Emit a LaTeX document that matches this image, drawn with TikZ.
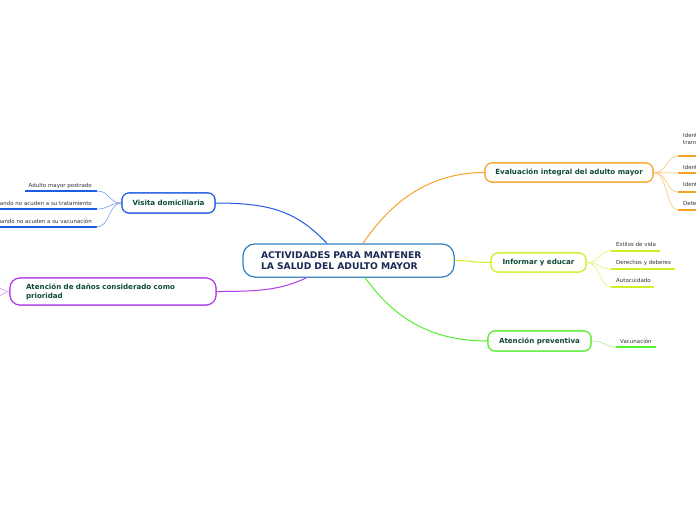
\documentclass[tikz,border=0pt]{standalone}
\usepackage{fontspec}
\setmainfont{DejaVu Sans}
\definecolor{centerblue}{HTML}{2B7BC0}
\definecolor{centertext}{HTML}{1B2A55}
\definecolor{nodetext}{HTML}{0F4A3A}
\definecolor{subtxt}{HTML}{333333}
\definecolor{visblue}{HTML}{1F5BE0}
\definecolor{vislight}{HTML}{86A6F2}
\definecolor{purp}{HTML}{B03CEC}
\definecolor{purplight}{HTML}{D9A0F6}
\definecolor{orng}{HTML}{F7A228}
\definecolor{ornglight}{HTML}{FCCB80}
\definecolor{ylw}{HTML}{D2EE22}
\definecolor{ylwlight}{HTML}{E6F67A}
\definecolor{grn}{HTML}{55EE2E}
\definecolor{grnlight}{HTML}{A6F590}
\tikzset{
  branch/.style={line width=1pt},
  twig/.style={line width=0.7pt},
  uline/.style={line width=1.9pt},
  topicbox/.style={draw, fill=white, line width=1.1pt, rounded corners=7pt, inner sep=0pt,
    text=nodetext, font=\bfseries\fontsize{7.1}{9}\selectfont},
  centerbox/.style={draw=centerblue, fill=white, line width=1pt, rounded corners=12pt, text width=175pt,
    inner xsep=18pt, inner ysep=0pt, minimum height=33pt, align=left, text=centertext,
    font=\bfseries\fontsize{9.2}{11}\selectfont},
  subtext/.style={inner sep=0pt, text=subtxt, font=\fontsize{5.5}{7}\selectfont}
}
\begin{document}
\begin{tikzpicture}[x=1pt,y=-1pt]
\path[use as bounding box, fill=white] (0,0) rectangle (696,520);
\begin{scope}
\clip (0,0) rectangle (696,520);
% topic nodes
\node[centerbox] (center) at (348.5,260.5) {ACTIVIDADES PARA MANTENER\\LA SALUD DEL ADULTO MAYOR};
\node[topicbox, draw=visblue, minimum width=93pt, minimum height=20pt] (visita) at (168.5,203) {Visita domiciliaria};
\node[topicbox, draw=purp, rounded corners=10pt, text width=174pt, inner xsep=16pt, minimum height=27pt, align=left] (danos) at (113,291.5)
  {Atención de daños considerado como\\prioridad};
\node[topicbox, draw=orng, minimum width=168pt, minimum height=19pt] (eval) at (569,172.5) {Evaluación integral del adulto mayor};
\node[topicbox, draw=ylw, minimum width=95pt, minimum height=19pt] (info) at (538.5,262.5) {Informar y educar};
\node[topicbox, draw=grn, minimum width=103pt, minimum height=20pt] (prev) at (539.5,341) {Atención preventiva};

% main branches
\draw[visblue, branch] ([xshift=-21.5pt]center.north) .. controls +(-30,-32) and +(55,0) .. (visita.east);
\draw[orng, branch] ([xshift=14.5pt]center.north) .. controls +(28,-42) and +(-55,0) .. (eval.west);
\draw[grn, branch] ([xshift=16.5pt]center.south) .. controls +(30,42) and +(-55,0) .. (prev.west);
\draw[purp, branch] ([xshift=-41.5pt]center.south) .. controls +(-25,12) and +(45,0) .. (danos.east);
\draw[ylw, branch] (center.east) .. controls +(18,0) and +(-18,0) .. (info.west);

% Visita sub items
\coordinate (v1a) at (25,191); \coordinate (v1b) at (97,191);
\coordinate (v2a) at (-10,209); \coordinate (v2b) at (97,209);
\coordinate (v3a) at (-10,227); \coordinate (v3b) at (97,227);
\node[subtext, anchor=base east] (v1) at (92,187) {Adulto mayor postrado};
\node[subtext, anchor=base east] (v2) at (92,205) {Cuando no acuden a su tratamiento};
\node[subtext, anchor=base east] (v3) at (92,223.5) {Cuando no acuden a su vacunación};
\foreach \a/\b in {v1a/v1b,v2a/v2b,v3a/v3b} \draw[visblue, uline] (\a) -- (\b);
\foreach \b in {v1b,v2b,v3b} \draw[vislight, twig] (visita.west) .. controls +(-13,0) and +(13,0) .. (\b);

% Danos sub branch (cut at edge)
\coordinate (d1) at (-2,288); \coordinate (d2) at (-2,296);
\draw[purplight, twig] (danos.west) .. controls +(-5,0) and +(4,0) .. (d1);
\draw[purplight, twig] (danos.west) .. controls +(-5,0) and +(4,0) .. (d2);

% Evaluacion sub items
\coordinate (e1a) at (678,156); \coordinate (e1b) at (700,156);
\coordinate (e2a) at (678,173); \coordinate (e2b) at (700,173);
\coordinate (e3a) at (678,192); \coordinate (e3b) at (700,192);
\coordinate (e4a) at (678,210); \coordinate (e4b) at (700,210);
\node[subtext, anchor=base west, align=left] (e1) at (683,144) {Identificar\\transtornos};
\node[subtext, anchor=base west] (e2) at (683,169) {Identificar};
\node[subtext, anchor=base west] (e3) at (683,186) {Identificar};
\node[subtext, anchor=base west] (e4) at (683,205) {Detectar};
\foreach \a/\b in {e1a/e1b,e2a/e2b,e3a/e3b,e4a/e4b} \draw[orng, uline] (\a) -- (\b);
\foreach \a in {e1a,e2a,e3a,e4a} \draw[ornglight, twig] (eval.east) .. controls +(14,0) and +(-12,0) .. (\a);

% Informar sub items
\coordinate (i1a) at (611,251); \coordinate (i1b) at (660,251);
\coordinate (i2a) at (611,269); \coordinate (i2b) at (675,269);
\coordinate (i3a) at (611,287); \coordinate (i3b) at (654,287);
\node[subtext, anchor=base west] (i1) at (616,246) {Estilos de vida};
\node[subtext, anchor=base west] (i2) at (616,264) {Derechos y deberes};
\node[subtext, anchor=base west] (i3) at (616,282) {Autocuidado};
\foreach \a/\b in {i1a/i1b,i2a/i2b,i3a/i3b} \draw[ylw, uline] (\a) -- (\b);
\foreach \a in {i1a,i2a,i3a} \draw[ylwlight, twig] (info.east) .. controls +(14,0) and +(-12,0) .. (\a);

% Preventiva sub item
\coordinate (p1a) at (616,347); \coordinate (p1b) at (656,347);
\node[subtext, anchor=base west] (p1) at (620,343) {Vacunación};
\draw[grn, uline] (p1a) -- (p1b);
\draw[grnlight, twig] (prev.east) .. controls +(14,0) and +(-12,0) .. (p1a);

% boxes drawn again over the branch ends
\node[centerbox] (centerT) at (348.5,260.5) {ACTIVIDADES PARA MANTENER\\LA SALUD DEL ADULTO MAYOR};
\node[topicbox, draw=visblue, minimum width=93pt, minimum height=20pt] (visitaT) at (168.5,203) {Visita domiciliaria};
\node[topicbox, draw=purp, rounded corners=10pt, text width=174pt, inner xsep=16pt, minimum height=27pt, align=left] (danosT) at (113,291.5)
  {Atención de daños considerado como\\prioridad};
\node[topicbox, draw=orng, minimum width=168pt, minimum height=19pt] (evalT) at (569,172.5) {Evaluación integral del adulto mayor};
\node[topicbox, draw=ylw, minimum width=95pt, minimum height=19pt] (infoT) at (538.5,262.5) {Informar y educar};
\node[topicbox, draw=grn, minimum width=103pt, minimum height=20pt] (prevT) at (539.5,341) {Atención preventiva};
\end{scope}
\end{tikzpicture}
\end{document}
